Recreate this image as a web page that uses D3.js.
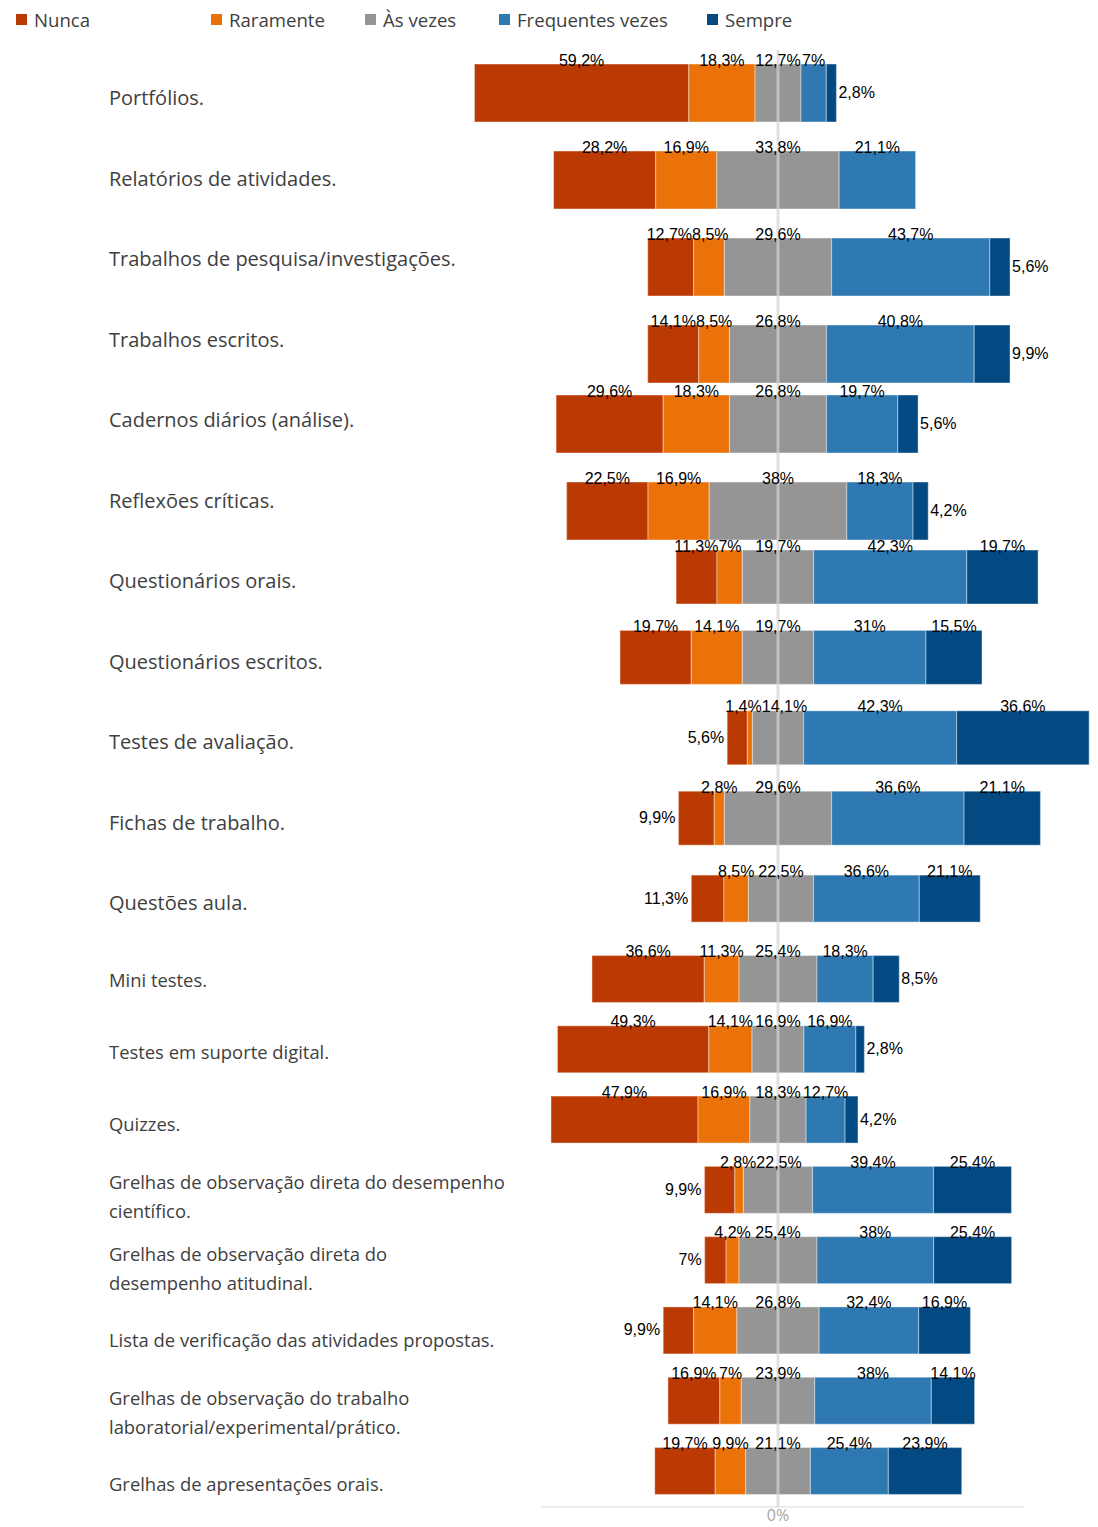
<!DOCTYPE html>
<html>
<head>
<meta charset="utf-8">
<script src="https://cdn.jsdelivr.net/npm/d3@7"></script>
<style>
  body { margin: 0; background: #ffffff; }
  svg { display: block; }
</style>
</head>
<body>
<svg id="chart" width="1098" height="1527"></svg>
<script>
// Assessment instruments (line breaks follow the printed label wrapping)
const categories = [
  "Portfólios.",
  "Relatórios de atividades.",
  "Trabalhos de pesquisa/investigações.",
  "Trabalhos escritos.",
  "Cadernos diários (análise).",
  "Reflexões críticas.",
  "Questionários orais.",
  "Questionários escritos.",
  "Testes de avaliação.",
  "Fichas de trabalho.",
  "Questões aula.",
  "Mini testes.",
  "Testes em suporte digital.",
  "Quizzes.",
  "Grelhas de observação direta do desempenho\ncientífico.",
  "Grelhas de observação direta do\ndesempenho atitudinal.",
  "Lista de verificação das atividades propostas.",
  "Grelhas de observação do trabalho\nlaboratorial/experimental/prático.",
  "Grelhas de apresentações orais."
];

// Frequency scale (legend order)
const seriesNames = ["Nunca", "Raramente", "Às vezes", "Frequentes vezes", "Sempre"];

// Percentages per answer
const nunca      = [59.2, 28.2, 12.7, 14.1, 29.6, 22.5, 11.3, 19.7, 5.6, 9.9, 11.3, 36.6, 49.3, 47.9, 9.9, 7, 9.9, 16.9, 19.7];
const raramente  = [18.3, 16.9, 8.5, 8.5, 18.3, 16.9, 7, 14.1, 1.4, 2.8, 8.5, 11.3, 14.1, 16.9, 2.8, 4.2, 14.1, 7, 9.9];
const asVezes    = [12.7, 33.8, 29.6, 26.8, 26.8, 38, 19.7, 19.7, 14.1, 29.6, 22.5, 25.4, 16.9, 18.3, 22.5, 25.4, 26.8, 23.9, 21.1];
const frequentes = [7, 21.1, 43.7, 40.8, 19.7, 18.3, 42.3, 31, 42.3, 36.6, 36.6, 18.3, 16.9, 12.7, 39.4, 38, 32.4, 38, 25.4];
const sempre     = [2.8, 0, 5.6, 9.9, 5.6, 4.2, 19.7, 15.5, 36.6, 21.1, 21.1, 8.5, 2.8, 4.2, 25.4, 25.4, 16.9, 14.1, 23.9];

const seriesValues = [nunca, raramente, asVezes, frequentes, sempre];
const seriesColors = ["#bb3a03", "#eb7109", "#959595", "#2e79b1", "#034a83"];

const axisTickLabels = ["0%"];

// ---- layout ----
const svg = d3.select("#chart");
const fontLabel = "'Open Sans', 'Noto Sans', sans-serif";
const fontValue = "'Liberation Sans', Arial, sans-serif";

// the chart is assembled from three panels, each drawn at its own zoom
const panelOf = d3.scaleThreshold().domain([10, 11]).range([0, 1, 2]);
const panelPxPerPct = [3.62, 2.89, 3.07];
const panelCenter = [778, 781, 778];
const panelLabelSize = [20, 20, 18.4];

// one horizontal scale per panel, centred on the middle of the neutral answer
const xScales = panelPxPerPct.map((p, j) =>
  d3.scaleLinear().domain([-100, 100]).range([panelCenter[j] - 100 * p, panelCenter[j] + 100 * p]));
const xFor = i => xScales[panelOf(i)];

// vertical placement of bars and of their category labels
const barY = d3.scaleLinear().domain([0, 3, 4, 5, 6, 11, 18]).range([93, 354, 424, 511, 577, 979, 1471]);
const barH = d3.scaleThreshold().domain([6, 10]).range([58, 54, 47]);
const labelY = d3.scaleLinear().domain([0, 10, 11, 18]).range([98, 903, 980, 1484]);

// build stacked segments
const rows = categories.map((cat, i) => {
  const vals = seriesValues.map(s => s[i]);
  let start = -(vals[0] + vals[1] + vals[2] / 2);
  const segs = vals.map((v, k) => {
    const s = { k, value: v, x0: start, x1: start + v };
    start += v;
    return s;
  });
  return { cat, i, x: xFor(i), cy: barY(i), h: barH(i), ly: labelY(i), segs };
});

// ---- legend ----
const legendX = [16, 211, 365, 499, 707];
const legend = svg.append("g").attr("class", "legend");
seriesNames.forEach((name, k) => {
  const g = legend.append("g").attr("transform", `translate(${legendX[k]},0)`);
  g.append("rect").attr("x", 0).attr("y", 14).attr("width", 11).attr("height", 11)
    .attr("fill", seriesColors[k]);
  g.append("text").attr("x", 18).attr("y", 27)
    .attr("font-family", fontLabel).attr("font-size", 18.6).attr("fill", "#404040")
    .text(name);
});

// ---- category labels ----
const catG = svg.append("g").attr("class", "categories");
rows.forEach(r => {
  const lines = r.cat.split("\n");
  const lh = 29;
  const t = catG.append("text")
    .attr("font-family", fontLabel).attr("font-size", panelLabelSize[panelOf(r.i)])
    .attr("fill", "#404040");
  lines.forEach((ln, j) => {
    t.append("tspan").attr("x", 109)
      .attr("y", r.ly + 7 + (j - (lines.length - 1) / 2) * lh)
      .text(ln);
  });
});

// ---- bars ----
const barG = svg.append("g").attr("class", "bars");
rows.forEach(r => {
  barG.selectAll(null)
    .data(r.segs.filter(s => s.value > 0))
    .join("rect")
    .attr("x", s => r.x(s.x0))
    .attr("width", s => r.x(s.x1) - r.x(s.x0))
    .attr("y", r.cy - r.h / 2)
    .attr("height", r.h)
    .attr("fill", s => seriesColors[s.k])
    .attr("stroke", "rgba(255,255,255,0.35)")
    .attr("stroke-width", 1.2);
});

// ---- axis baseline and zero line ----
const axisY = 1507;
const xAxisScale = xScales[2];
svg.append("line")
  .attr("x1", xAxisScale(-77.2)).attr("x2", xAxisScale(80.1))
  .attr("y1", axisY).attr("y2", axisY)
  .attr("stroke", "#d9d9d9").attr("stroke-width", 1);

svg.append("line")
  .attr("x1", xAxisScale(0)).attr("x2", xAxisScale(0))
  .attr("y1", 50).attr("y2", axisY)
  .attr("stroke", "#d4d4d4").attr("stroke-opacity", 0.7).attr("stroke-width", 3);

svg.append("text")
  .attr("x", xAxisScale(0)).attr("y", 1521).attr("text-anchor", "middle")
  .attr("font-family", fontLabel).attr("font-size", 16).attr("fill", "#a6a6a6")
  .text(axisTickLabels[0]);

// ---- value labels ----
const fmt = v => String(v).replace(".", ",") + "%";
// end segments narrower than this are labelled beside the bar
const outsideLimit = 10.5;
const keepAbove = new Set(["Questionários orais."]);
const outsideLeftExtra = new Set(["Questões aula."]);

const valG = svg.append("g").attr("class", "values")
  .attr("font-family", fontValue).attr("font-size", 16).attr("fill", "#000");

// spread overlapping labels of one row apart, keeping each group centred on its targets
function spread(items) {
  const clusters = [];
  items.forEach(it => {
    clusters.push({ items: [it] });
    place(clusters[clusters.length - 1]);
    while (clusters.length > 1) {
      const b = clusters[clusters.length - 1], a = clusters[clusters.length - 2];
      if (a.start + a.width <= b.start) break;
      a.items = a.items.concat(b.items);
      clusters.pop();
      place(a);
    }
  });
  clusters.forEach(c => {
    let x = c.start;
    c.items.forEach(it => { it.cx = x + it.w / 2; x += it.w; });
  });
  function place(c) {
    let off = 0, sum = 0;
    c.items.forEach(it => { sum += it.target - (off + it.w / 2); off += it.w; });
    c.width = off;
    c.start = sum / c.items.length;
  }
}

rows.forEach(r => {
  const top = r.cy - r.h / 2;
  const above = [];
  r.segs.forEach(s => {
    if (s.value <= 0) return;
    let mode = "above";
    if (s.k === 0 && (s.value < outsideLimit || outsideLeftExtra.has(r.cat)) && !keepAbove.has(r.cat)) mode = "left";
    if (s.k === 4 && s.value < outsideLimit) mode = "right";
    const t = valG.append("text").text(fmt(s.value));
    if (mode === "above") {
      t.attr("y", top + 1.5).attr("text-anchor", "middle");
      above.push({ node: t, target: (r.x(s.x0) + r.x(s.x1)) / 2, w: t.node().getComputedTextLength() });
    } else if (mode === "left") {
      t.attr("x", r.x(s.x0) - 3).attr("y", r.cy + 5).attr("text-anchor", "end");
    } else {
      t.attr("x", r.x(s.x1) + 2).attr("y", r.cy + 5).attr("text-anchor", "start");
    }
  });
  spread(above);
  above.forEach(it => it.node.attr("x", it.cx));
});
</script>
</body>
</html>
